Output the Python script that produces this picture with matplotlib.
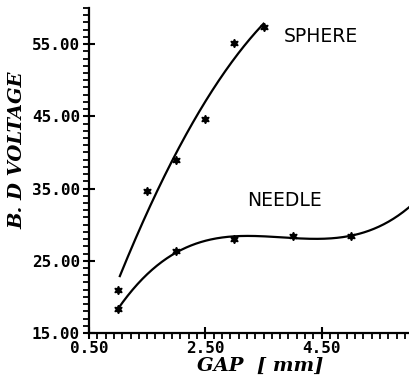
import numpy as np
import matplotlib
matplotlib.use("Agg")
import matplotlib.pyplot as plt
from matplotlib.ticker import MultipleLocator, AutoMinorLocator, FormatStrFormatter

# Data
sphere_x = [1.0, 1.5, 2.0, 2.5, 3.0, 3.5]
sphere_y = [21.0, 34.7, 39.0, 44.6, 55.1, 57.4]
needle_x = [1.0, 2.0, 3.0, 4.0, 5.0]
needle_y = [18.3, 26.4, 28.0, 28.4, 28.4]
needle_curve_end = 6.0

xticks = [0.5, 2.5, 4.5]
yticks = [15, 25, 35, 45, 55]

fig = plt.figure(figsize=(4.09, 3.79), dpi=100)
ax = fig.add_axes([0.2176, 0.1214, 0.7824, 0.8576])

# fitted curves (least squares)
ps = np.polyfit(sphere_x, sphere_y, 2)
xs = np.linspace(min(sphere_x) + 0.03, max(sphere_x), 200)
ax.plot(xs, np.polyval(ps, xs), color="black", lw=1.6)

pn = np.polyfit(needle_x, needle_y, 3)
xn = np.linspace(min(needle_x), needle_curve_end, 300)
ax.plot(xn, np.polyval(pn, xn), color="black", lw=1.6)

ax.plot(sphere_x, sphere_y, linestyle="none", marker=(6, 1, 0), ms=6,
        color="black", mec="black")
ax.plot(needle_x, needle_y, linestyle="none", marker=(6, 1, 0), ms=6,
        color="black", mec="black")

ax.text(3.85, 54.8, "SPHERE", fontsize=13.5, family="DejaVu Sans", va="bottom")
ax.text(3.22, 32.0, "NEEDLE", fontsize=13.5, family="DejaVu Sans", va="bottom")

ax.set_xlim(0.5, 6.0)
ax.set_ylim(15, 60)
ax.spines["top"].set_visible(False)
ax.spines["right"].set_visible(False)
for s in ("left", "bottom"):
    ax.spines[s].set_linewidth(1.6)

ax.xaxis.set_major_locator(matplotlib.ticker.FixedLocator(xticks))
ax.yaxis.set_major_locator(matplotlib.ticker.FixedLocator(yticks))
ax.xaxis.set_minor_locator(AutoMinorLocator(14))
ax.yaxis.set_minor_locator(MultipleLocator(1))
ax.xaxis.set_major_formatter(FormatStrFormatter("%.2f"))
ax.yaxis.set_major_formatter(FormatStrFormatter("%.2f"))

ax.tick_params(which="major", direction="inout", length=9, width=1.5, pad=1)
ax.tick_params(axis="y", which="major", pad=2)
ax.tick_params(which="minor", direction="out", length=4, width=1.3)
for lab in ax.get_xticklabels() + ax.get_yticklabels():
    lab.set_family("DejaVu Sans Mono")
    lab.set_fontweight("bold")
    lab.set_fontsize(11.5)

fig.text(17 / 409, 1 - 150 / 379, "B. D VOLTAGE", rotation=90, ha="center",
         va="center", family="DejaVu Serif", fontweight="bold", style="italic",
         fontsize=14)
fig.text(260 / 409, 1 - 366 / 379, "GAP  [ mm]", ha="center", va="center",
         family="DejaVu Serif", fontweight="bold", style="italic", fontsize=14)

fig.savefig("out.png", dpi=100)
